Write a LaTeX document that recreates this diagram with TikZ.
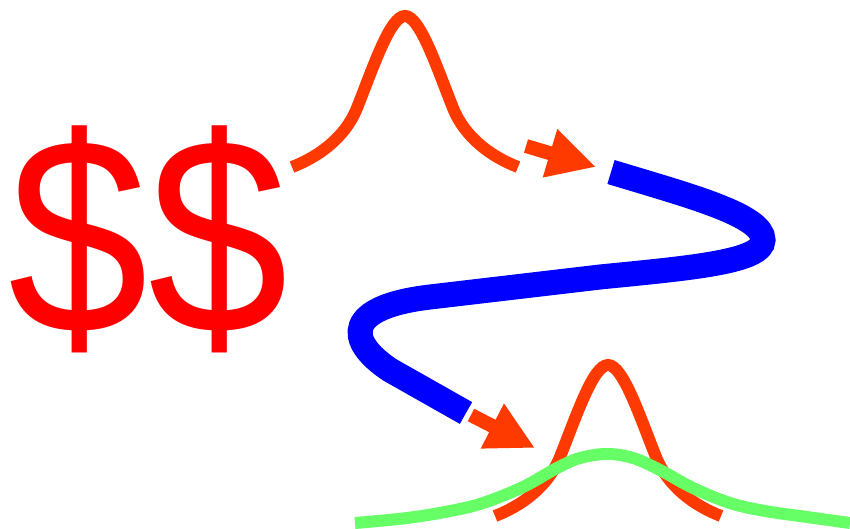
\documentclass[tikz,border=0pt]{standalone}
\usepackage{fontspec}
\setmainfont{Liberation Sans}
\usetikzlibrary{arrows.meta}
\definecolor{orng}{RGB}{255,58,0}
\definecolor{dollar}{RGB}{255,0,0}
\definecolor{bluec}{RGB}{0,0,255}
\definecolor{greenc}{RGB}{102,255,102}
\tikzset{
  gauss/.style={draw=orng, line width=6pt, line cap=butt},
  widegauss/.style={draw=greenc, line width=6pt, line cap=butt},
  bluepath/.style={draw=bluec, line width=12.5pt, line cap=butt},
  fatarrow/.style={draw=orng, fill=orng, line width=7pt, -{Triangle[length=24pt,width=23.5pt]}},
  money/.style={text=dollar, inner sep=0pt, outer sep=0pt, anchor=base west, font=\fontsize{127}{127}\selectfont},
  narrowbell/.pic={
    \draw[gauss] (-113,151) .. controls (-87,141) and (-60,122) .. (-48,92)
      .. controls (-32,52) and (-15,0) .. (0,0)
      .. controls (15,0) and (32,52) .. (48,92)
      .. controls (60,122) and (87,141) .. (113,151);
  }
}
\begin{document}
\begin{tikzpicture}[x=0.5pt,y=-0.5pt]
\useasboundingbox (0,0) rectangle (850,529);
% dollar signs
\node[money] (cash) at (9,333) {\scalebox{0.99}[1.105]{\$\$}};
% top narrow curve
\pic at (405,16) {narrowbell};
% arrow 1
\coordinate (a1s) at (526,146);
\coordinate (a1e) at (596,167);
\draw[fatarrow] (a1s) -- (a1e);
% blue path
\coordinate (b0) at (611,172);
\coordinate (b1) at (763,240);
\coordinate (b2) at (600,277);
\coordinate (b3) at (430,297);
\coordinate (b4) at (390,370);
\coordinate (b5) at (466,413);
\draw[bluepath] (b0) .. controls (690,196) and (763,215) .. (b1)
  .. controls (763,262) and (690,268) .. (b2) -- (b3)
  .. controls (345,307) and (345,340) .. (b4) -- (b5);
% arrow 2
\coordinate (a2s) at (471,415);
\coordinate (a2e) at (535,448);
\draw[fatarrow] (a2s) -- (a2e);
% lower narrow curve
\pic at (608,365) {narrowbell};
% wide green curve
\draw[widegauss] plot[smooth, tension=0.6] coordinates {(355,523) (407,518) (450,511) (483,503) (523,487) (557,468) (580,458) (607,454) (633,458) (660,470) (693,488) (730,503) (765,511) (807,517) (850,523)};
\end{tikzpicture}
\end{document}
